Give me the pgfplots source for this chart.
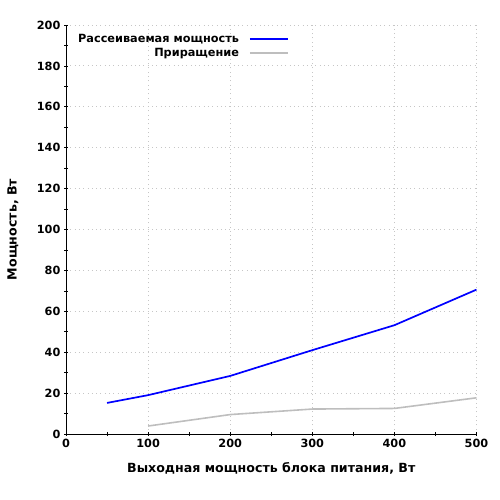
\documentclass[border=0pt]{standalone}
\usepackage{fontspec}
\setmainfont{DejaVu Sans}
\usepackage{pgfplots}
\pgfplotsset{compat=1.18}
\definecolor{incgray}{RGB}{190,190,190}
\begin{document}
\begin{tikzpicture}[x=1pt,y=1pt]
\path[use as bounding box] (0,0) rectangle (500,500);
\begin{axis}[
  at={(66pt,66pt)}, anchor=south west,
  scale only axis, width=410.5pt, height=409pt,
  xmin=0, xmax=500, ymin=0, ymax=200,
  axis x line*=bottom, axis y line*=left,
  xtick={0,100,...,500}, ytick={0,20,...,200},
  minor x tick num=1, minor y tick num=1,
  tick align=center, major tick length=4pt, minor tick length=4pt,
  tick style={black, line width=0.6pt},
  axis line style={black, line width=0.8pt},
  grid=major, major grid style={dash pattern=on 1pt off 3.3pt, gray!45, line width=0.8pt},
  /pgf/number format/assume math mode=true,
  ticklabel style={font=\fontsize{11.3}{13}\selectfont\bfseries},
  xlabel={Выходная мощность блока питания, Вт},
  ylabel={Мощность, Вт},
  label style={font=\fontsize{12.6}{14}\selectfont\bfseries},
  xlabel style={at={(axis description cs:0.5,-0.083)}, anchor=center},
  ylabel style={at={(axis description cs:-0.129,0.5)}, anchor=center},
  legend plot pos=right,
  legend cell align=right,
  legend style={at={(0.017,0.988)}, anchor=north west, fill=none,
    font=\fontsize{11.3}{13}\selectfont\bfseries, row sep=0pt, column sep=8pt},
  every axis legend/.append style={draw=none},
  legend image code/.code={\draw[#1] (0pt,0pt) -- (38pt,0pt);},
]
\addplot[draw=blue, line width=1.7pt] coordinates {(50,15.2) (100,19) (200,28.4) (300,41) (400,53.2) (500,70.6)};
\addlegendentry{Рассеиваемая мощность}
\addplot[draw=incgray, line width=1.6pt] coordinates {(100,3.9) (200,9.5) (300,12.2) (400,12.5) (500,17.7)};
\addlegendentry{Приращение}
\end{axis}
\end{tikzpicture}
\end{document}
